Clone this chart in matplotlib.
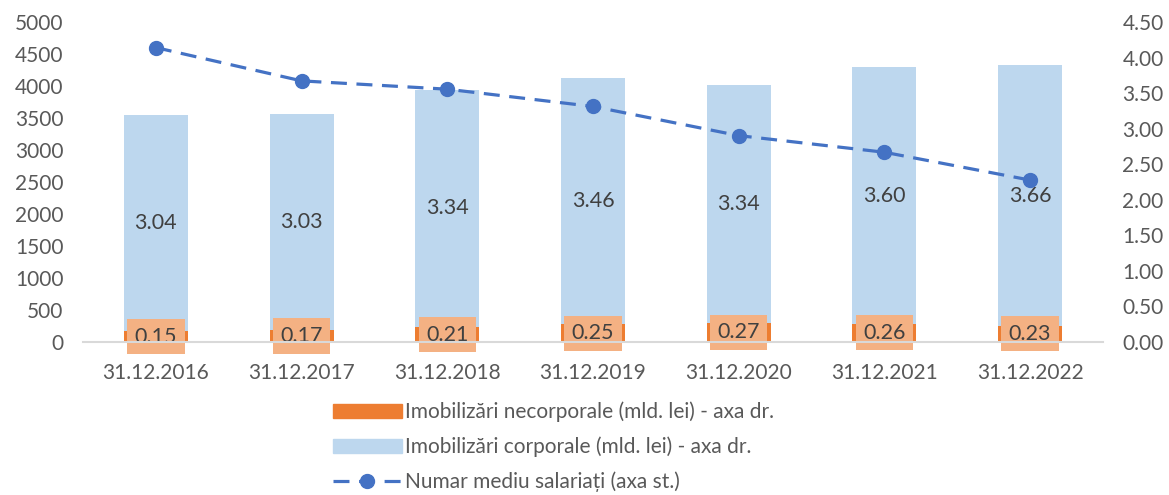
import matplotlib.pyplot as plt
from matplotlib.patches import Patch
from matplotlib.lines import Line2D

# date
ani = ['31.12.2016', '31.12.2017', '31.12.2018', '31.12.2019',
       '31.12.2020', '31.12.2021', '31.12.2022']
necorporale = [0.15, 0.17, 0.21, 0.25, 0.27, 0.26, 0.23]
corporale = [3.04, 3.03, 3.34, 3.46, 3.34, 3.60, 3.66]
salariati = [4600, 4080, 3950, 3680, 3225, 2965, 2530]

plt.rcParams['font.family'] = ['Lato', 'DejaVu Sans']

fig = plt.figure(figsize=(11.69, 4.95), dpi=100)
ax = fig.add_axes([0.071, 0.309, 0.8725, 0.6466])
ax2 = ax.twinx()

x = list(range(len(ani)))
w = 0.44

# bare pe axa din dreapta
ax2.bar(x, necorporale, w, color='#ED7D31', zorder=2)
ax2.bar(x, corporale, w, bottom=necorporale, color='#BDD7EE', zorder=2)
for i in x:
    ax2.text(i, necorporale[i] / 2, f'{necorporale[i]:.2f}', ha='center', va='center',
             fontsize=15.5, color='#404040',
             bbox=dict(boxstyle='square,pad=0.35', fc='#F4B183', ec='none'), zorder=3)
    ax2.text(i, necorporale[i] + corporale[i] / 2, f'{corporale[i]:.2f}', ha='center',
             va='center', fontsize=15.5, color='#404040', zorder=3)

# linia pe axa din stanga
ax.plot(x, salariati, color='#4472C4', lw=2.3, dashes=(5, 3), marker='o',
        markersize=10, zorder=4)
ax.set_zorder(ax2.get_zorder() + 1)
ax.patch.set_visible(False)

ax.set_xlim(-0.5, 6.5)
ax.set_ylim(0, 5000)
ax.set_yticks(range(0, 5001, 500))
ax2.set_ylim(0, 4.5)
ax2.set_yticks([i * 0.5 for i in range(10)])
ax2.set_yticklabels([f'{i * 0.5:.2f}' for i in range(10)])
ax.set_xticks(x)
ax.set_xticklabels(ani)

for a in (ax, ax2):
    for s in a.spines.values():
        s.set_visible(False)
    a.tick_params(length=0, labelsize=15, colors='#595959')
ax.spines['bottom'].set_visible(True)
ax.spines['bottom'].set_color('#D9D9D9')
ax.spines['bottom'].set_linewidth(1.5)
ax.tick_params(axis='y', pad=14)
ax.tick_params(axis='x', pad=15)
ax2.tick_params(axis='y', pad=14)

handles = [Patch(color='#ED7D31'), Patch(color='#BDD7EE'),
           Line2D([], [], color='#4472C4', lw=2.3, dashes=(5, 3), marker='o', markersize=10)]
labels = ['Imobilizări necorporale (mld. lei) - axa dr.',
          'Imobilizări corporale (mld. lei) - axa dr.',
          'Numar mediu salariați (axa st.)']
leg = fig.legend(handles, labels, loc='center left', bbox_to_anchor=(333 / 1169, 0.097),
                 frameon=False, fontsize=15, handlelength=3.3, labelspacing=0.7,
                 handletextpad=0.15, borderpad=0, borderaxespad=0)
for t in leg.get_texts():
    t.set_color('#595959')

fig.savefig('out.png', dpi=100)
